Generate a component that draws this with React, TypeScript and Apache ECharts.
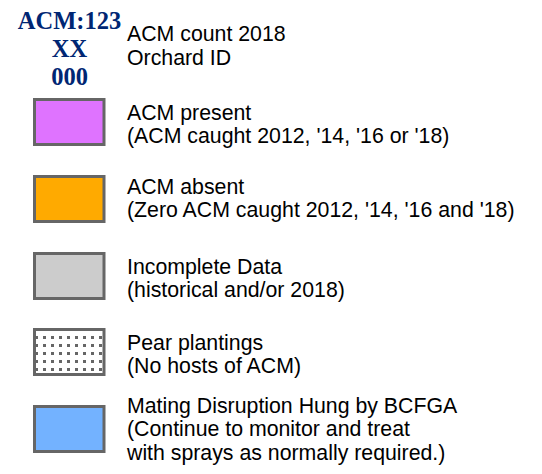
import React, { useEffect, useRef } from "react";
import * as echarts from "echarts";

// ---- content ----
const titleLines = ["ACM:123", "XX", "000"];
const headerLines = ["ACM count 2018", "Orchard ID"];
const entryLabels: string[][] = [
  ["ACM present", "(ACM caught 2012, '14, '16 or '18)"],
  ["ACM absent", "(Zero ACM caught 2012, '14, '16 and '18)"],
  ["Incomplete Data", "(historical and/or 2018)"],
  ["Pear plantings", "(No hosts of ACM)"],
  [
    "Mating Disruption Hung by BCFGA",
    "(Continue to monitor and treat",
    "with sprays as normally required.)",
  ],
];
const entryFills = ["#DF73FF", "#FFAA00", "#CCCCCC", "dots", "#73B2FF"];

// ---- layout ----
const TITLE_COLOR = "#002673";
const BORDER = "#666666";
const boxTops = [98, 175, 252, 328, 405];
const firstBaselines = [120, 194, 274, 350, 413];
const LINE_H = 23.5;

export default function App() {
  const ref = useRef<HTMLDivElement>(null);
  useEffect(() => {
    if (!ref.current) return;
    const chart = echarts.init(ref.current, undefined, { renderer: "svg" });
    const els: any[] = [];
    const sansFont = '21.3px "Liberation Sans", Arial, sans-serif';
    const serifOff = 8.2;
    const sansOff = 7.4;

    titleLines.forEach((t, i) => {
      els.push({
        type: "text",
        x: 69.5,
        y: 29 + i * 28 - serifOff,
        style: {
          text: t,
          font: 'bold 24.5px "Liberation Serif", "Times New Roman", serif',
          fill: TITLE_COLOR,
          align: "center",
          verticalAlign: "middle",
        },
      });
    });
    headerLines.forEach((t, i) => {
      els.push({
        type: "text",
        x: 127,
        y: 41 + i * 24 - sansOff,
        style: { text: t, font: sansFont, fill: "#000", align: "left", verticalAlign: "middle" },
      });
    });

    entryLabels.forEach((lines, k) => {
      const top = boxTops[k];
      const fill = entryFills[k];
      els.push({
        type: "rect",
        shape: { x: 34.5, y: top + 1.5, width: 69.5, height: 45 },
        style: { fill: fill === "dots" ? "#ffffff" : fill, stroke: BORDER, lineWidth: 3 },
        z: 1,
      });
      if (fill === "dots") {
        for (let r = 0; r < 5; r++) {
          for (let c = 0; c < 9; c++) {
            els.push({
              type: "rect",
              shape: { x: 35 + c * 8, y: top + 8 + r * 8, width: 3, height: 3 },
              style: { fill: "#666666" },
              z: 2,
            });
          }
        }
      }
      lines.forEach((t, i) => {
        els.push({
          type: "text",
          x: 127,
          y: firstBaselines[k] + i * LINE_H - sansOff,
          style: { text: t, font: sansFont, fill: "#000", align: "left", verticalAlign: "middle" },
        });
      });
    });

    chart.setOption({
      animation: false,
      backgroundColor: "#ffffff",
      graphic: { elements: els },
    });
    return () => chart.dispose();
  }, []);
  return (
    <div
      ref={ref}
      style={{ position: "fixed", left: 0, top: 0, width: 542, height: 474, background: "#fff" }}
    />
  );
}
